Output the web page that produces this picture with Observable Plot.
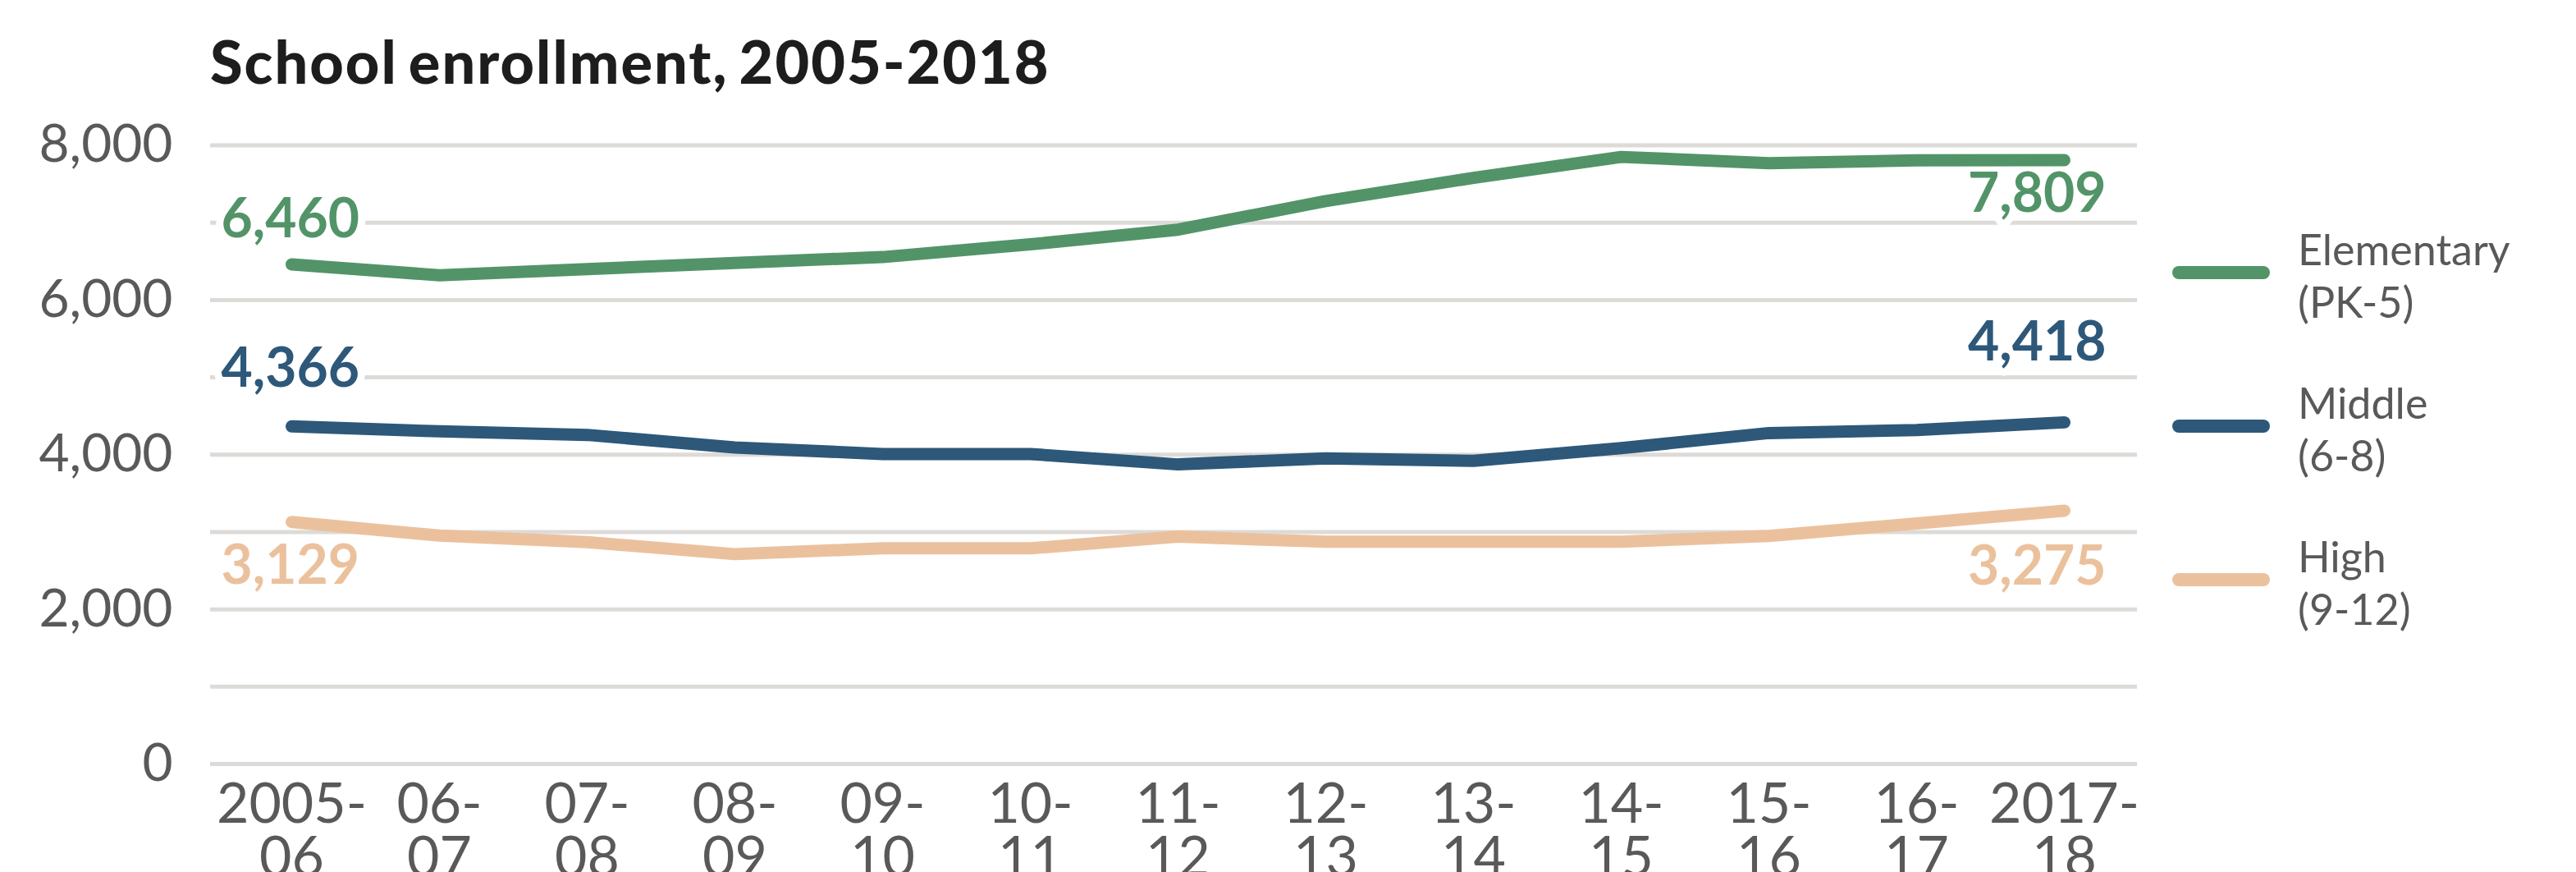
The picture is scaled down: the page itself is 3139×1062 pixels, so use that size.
<!DOCTYPE html>
<html><head><meta charset="utf-8">
<script src="https://cdn.jsdelivr.net/npm/d3@7"></script>
<script src="https://cdn.jsdelivr.net/npm/@observablehq/plot@0.6"></script>
<style>
html,body{margin:0;padding:0;background:#fff;}
#wrap{position:relative;width:3139px;height:1062px;overflow:hidden;font-family:Lato,sans-serif;background:#fff;}
#title{position:absolute;left:256px;top:38px;font-family:Lato,sans-serif;font-weight:900;font-size:72px;line-height:72px;letter-spacing:2px;word-spacing:-6px;color:#1d1d1d;white-space:nowrap;}
#chart{position:absolute;left:0;top:130px;}
#legend{position:absolute;left:0;top:0;}
</style></head><body>
<div id="wrap">
  <div id="title">School enrollment, 2005-2018</div>
  <div id="chart"></div>
  <svg id="legend" width="3139" height="1062"></svg>
</div>
<script>
// ---- data ----
const years = ["2005-06","2006-07","2007-08","2008-09","2009-10","2010-11","2011-12","2012-13","2013-14","2014-15","2015-16","2016-17","2017-18"];
const yearLabels = ["2005-\n06","06-\n07","07-\n08","08-\n09","09-\n10","10-\n11","11-\n12","12-\n13","13-\n14","14-\n15","15-\n16","16-\n17","2017-\n18"];
const elementary = [6460, 6320, 6400, 6480, 6555, 6720, 6910, 7280, 7580, 7850, 7770, 7805, 7809];
const middle     = [4366, 4302, 4256, 4093, 4009, 4009, 3874, 3953, 3921, 4084, 4280, 4318, 4418];
const high       = [3129, 2954, 2869, 2714, 2789, 2789, 2940, 2874, 2874, 2874, 2948, 3111, 3275];
const seriesNames = ["Elementary", "Middle", "High"];
const seriesGrades = ["(PK-5)", "(6-8)", "(9-12)"];
const seriesColors = ["#529468", "#2d5879", "#ebc19d"];
const yTickLabels = [0, 2000, 4000, 6000, 8000];
const gridValues = [0, 1000, 2000, 3000, 4000, 5000, 6000, 7000, 8000];

// ---- table built from arrays ----
const seriesValues = [elementary, middle, high];
const rows = [];
seriesNames.forEach((s, si) => seriesValues[si].forEach((v, i) => rows.push({series: s, year: years[i], value: v})));
const firstRows = seriesNames.map((s, si) => ({series: s, year: years[0], value: seriesValues[si][0]}));
const lastRows = seriesNames.map((s, si) => ({series: s, year: years[years.length - 1], value: seriesValues[si][years.length - 1]}));
const fmt = d3.format(",");

const labelFont = {fontFamily: "Lato, sans-serif", fontWeight: 700, fontSize: 66, stroke: "white", strokeWidth: 18, paintOrder: "stroke", text: d => fmt(d.value), x: "year", y: "value", fill: "series"};

const chart = Plot.plot({
  width: 3139,
  height: 932,
  marginLeft: 256,
  marginRight: 535,
  marginTop: 46.5,
  marginBottom: 132,
  x: {type: "point", domain: years, padding: 0, insetLeft: 98, insetRight: 88, axis: null},
  y: {domain: [0, 8000], axis: null},
  color: {domain: seriesNames, range: seriesColors},
  style: {fontFamily: "Lato, sans-serif", background: "white", overflow: "visible"},
  marks: [
    Plot.ruleY(gridValues, {stroke: "#dcdbd8", strokeWidth: 5}),
    Plot.axisY(yTickLabels, {tickSize: 0, tickPadding: 46, tickFormat: fmt, fontSize: 64, color: "#595959", label: null}),
    Plot.axisX({tickSize: 0, tickPadding: 25, fontSize: 68, lineHeight: 0.96, color: "#595959", label: null,
      tickFormat: d => yearLabels[years.indexOf(d)]}),
    // start labels
    Plot.text(firstRows.filter(d => d.series === "Elementary"), {...labelFont, textAnchor: "start", dx: -86, lineAnchor: "bottom", dy: -33}),
    Plot.text(firstRows.filter(d => d.series === "Middle"), {...labelFont, textAnchor: "start", dx: -86, lineAnchor: "bottom", dy: -48}),
    Plot.text(firstRows.filter(d => d.series === "High"), {...labelFont, textAnchor: "start", dx: -86, lineAnchor: "top", dy: 28}),
    // end labels
    Plot.text(lastRows.filter(d => d.series === "Elementary"), {...labelFont, textAnchor: "end", dx: 51, lineAnchor: "top", dy: 16}),
    Plot.text(lastRows.filter(d => d.series === "Middle"), {...labelFont, textAnchor: "end", dx: 51, lineAnchor: "bottom", dy: -75}),
    Plot.text(lastRows.filter(d => d.series === "High"), {...labelFont, textAnchor: "end", dx: 51, lineAnchor: "top", dy: 43}),
    Plot.lineY(rows, {x: "year", y: "value", z: "series", stroke: "series", strokeWidth: 15, strokeLinecap: "round", strokeLinejoin: "round"})
  ]
});
document.getElementById("chart").appendChild(chart);

// ---- legend ----
const legend = d3.select("#legend");
seriesNames.forEach((s, i) => {
  const g = legend.append("g").attr("transform", `translate(0, ${323 + i * 187})`);
  g.append("line").attr("x1", 2655).attr("x2", 2758).attr("y1", 9).attr("y2", 9)
    .attr("stroke", seriesColors[i]).attr("stroke-width", 16).attr("stroke-linecap", "round");
  const t = g.append("text").attr("x", 2800).attr("y", 0)
    .attr("font-family", "Lato, sans-serif").attr("font-size", 52).attr("fill", "#595959");
  t.append("tspan").attr("x", 2800).attr("y", 0).text(s);
  t.append("tspan").attr("x", 2800).attr("y", 64).text(seriesGrades[i]);
});
</script>
</body></html>
